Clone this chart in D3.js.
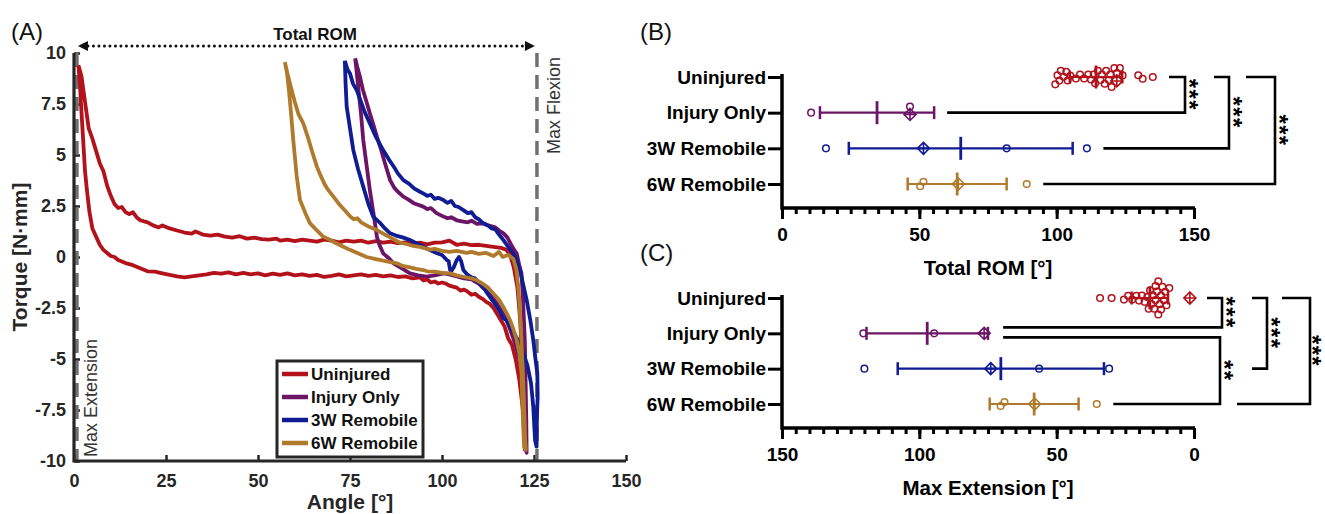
<!DOCTYPE html>
<html>
<head>
<meta charset="utf-8">
<title>Torque-angle loops and ROM</title>
<script src="https://cdn.jsdelivr.net/npm/d3@7"></script>
<style>
  body { margin: 0; background: #fff; }
  svg { font-family: "Liberation Sans", Arial, Helvetica, sans-serif; }
</style>
</head>
<body>
<svg id="fig" width="1325" height="514"></svg>
<script>
const groups = ["Uninjured", "Injury Only", "3W Remobile", "6W Remobile"];

// (A) representative torque-angle loops, [angle deg, torque N*mm]
const curveUninjured = [
  [1.2,9.4],[2,8.9],[3,7.6],[4,6.3],[5,5.8],[6,5.2],[7,4.6],[8,4.2],[9,3.5],[10,3.0],[11,2.6],[12,2.4],[13,2.45],
  [14,2.2],[15,2.1],[16,2.2],[17,1.95],[18,1.8],[20,1.7],[21.5,1.55],[23,1.45],[24,1.55],[26,1.4],[28,1.3],[30,1.2],
  [32,1.15],[33,1.25],[35,1.1],[37,1.05],[39,1.1],[41,1.0],[43,0.95],[45,1.02],[47,0.9],[49,0.95],[51,0.88],[53,0.85],
  [55,0.9],[56,0.8],[58,0.85],[60,0.78],[62,0.85],[64,0.8],[66,0.75],[68,0.85],[70,0.8],[72,0.72],[74,0.8],[76,0.75],
  [78,0.8],[80,0.7],[82,0.78],[84,0.7],[86,0.75],[88,0.68],[90,0.72],[92,0.65],[94,0.7],[96,0.62],[98,0.7],[100,0.72],
  [102,0.8],[104,0.6],[106,0.65],[108,0.58],[110,0.6],[112,0.55],[114,0.5],[116,0.45],[117.5,0.35],[118.5,0.1],
  [119.5,-0.5],[120.5,-1.5],[121.2,-3],[121.8,-5],[122.2,-7],[122.5,-9.45],
  [122,-7.5],[121,-6],[120,-5],[119,-4.3],[118,-4],[117,-3.4],[116,-3.1],[115,-2.8],[114,-2.5],[113,-2.3],[112,-2.2],
  [111,-2.05],[110,-1.95],[109,-1.8],[108,-1.85],[107,-1.7],[106,-1.6],[105,-1.65],[104,-1.5],[103,-1.45],[102,-1.4],
  [101,-1.3],[100,-1.25],[99,-1.3],[98,-1.2],[97,-1.25],[96,-1.1],[95,-1.15],[94,-1.0],[92,-1.05],[90,-0.95],[88,-0.98],
  [86,-0.9],[84,-0.95],[82,-0.88],[80,-0.92],[78,-0.85],[76,-0.9],[74,-0.95],[72,-0.85],[70,-0.92],[68,-0.98],[66,-0.88],
  [64,-0.93],[62,-0.85],[60,-0.9],[58,-0.8],[56,-0.88],[54,-0.82],[52,-0.9],[50,-0.8],[48,-0.85],[46,-0.78],[44,-0.85],
  [42,-0.75],[40,-0.82],[38,-0.78],[36,-0.85],[34,-0.9],[32,-0.95],[30,-1.0],[28,-0.95],[26,-0.88],[24,-0.8],[22,-0.72],
  [20,-0.7],[18,-0.55],[16,-0.4],[14,-0.3],[12,-0.15],[11,0.0],[10,0.05],[9,0.2],[8,0.35],[7,0.6],[6,1.0],[5,1.4],
  [4.2,2.2],[3.5,3.3],[3,4.2],[2.5,5.7],[2,7.2],[1.6,8.5],[1.2,9.4]
];
const curveInjury = [
  [76.4,9.74],[77,9.3],[77.7,8.84],[78.5,8.2],[79.5,7.6],[80.4,7.04],[81.5,6.4],[82.3,5.9],[83.2,5.4],[84.5,4.6],
  [85.9,3.77],[87,3.4],[88,3.2],[89.5,2.96],[91,2.8],[92.5,2.62],[94.9,2.47],[96,2.35],[97,2.4],[98.5,2.15],[100.4,1.98],
  [101.5,1.9],[102.5,1.95],[104,1.8],[105.8,1.73],[107,1.7],[108,1.78],[109.5,1.62],[111.2,1.65],[112.5,1.55],[113.5,1.5],
  [114.5,1.45],[115.5,1.3],[116.7,1.16],[117.8,0.95],[118.8,0.6],[119.6,0.35],[120.3,0.18],[121,-0.4],[121.6,-0.8],
  [122,-2],[122.5,-4.07],[122.7,-6],[122.9,-8],[123,-9.6],
  [122.6,-9.0],[122.3,-7.5],[121.8,-6.0],[121,-5.0],[120,-4.3],[119,-3.8],[118,-3.3],[117,-2.9],[116,-2.6],[115,-2.3],
  [114,-2.05],[113,-1.85],[112,-1.65],[111,-1.5],[110,-1.3],[109,-1.2],[108,-1.1],[106,-1.05],[104,-0.95],[102,-0.85],
  [100.4,-0.8],[98,-0.9],[95.8,-0.96],[93.5,-0.9],[91.3,-0.8],[89,-0.55],[86.8,-0.31],[85.5,-0.05],[84,0.18],[83,0.6],
  [82.3,1.0],[81.5,2.0],[80.4,3.28],[79.5,4.5],[78.6,5.74],[78,7],[77.3,8.19],[76.8,9.1],[76.4,9.74]
];
const curve3W = [
  [73.6,9.62],[74.3,9.2],[75,9.0],[75.8,8.5],[76.8,8.19],[78,7.6],[79,7.1],[80.4,6.55],[82,5.9],[84,5.24],[85.5,4.8],
  [87,4.4],[88,4.1],[89.5,3.77],[91,3.6],[92.5,3.35],[94,3.2],[94.9,3.12],[96,3.0],[97,3.05],[98,2.85],[99,2.9],
  [100.4,2.79],[101.5,2.65],[102.5,2.75],[103.5,2.5],[104.5,2.45],[105.8,2.3],[107,2.15],[108,2.2],[109,1.95],[110,1.85],
  [111.2,1.65],[112.5,1.55],[113.5,1.4],[114.5,1.35],[115.5,1.1],[116.7,0.83],[118,0.5],[119.2,0.2],[120.3,-0.15],
  [121.5,-0.9],[123,-2.1],[124,-3.1],[124.8,-4.07],[125.4,-5],[125.9,-5.7],[126,-6.8],[125.8,-7.8],[125.7,-9.3],
  [125.3,-9.0],[124.8,-7.34],[124.2,-6.2],[123.2,-5.3],[122.1,-4.72],[121,-4.2],[119.8,-3.8],[118.5,-3.42],[117.5,-3.1],
  [116.6,-3.0],[115.8,-2.7],[114.9,-2.43],[114,-2.2],[113,-1.95],[112.2,-1.75],[111.2,-1.45],[110,-1.25],[109,-1.05],
  [108,-1.0],[106.8,-0.85],[105.8,-0.64],[105.2,-0.2],[104.6,0.0],[104,-0.15],[103.2,-0.5],[102.5,-0.7],[102.2,-0.64],
  [101.8,-0.2],[101.3,-0.15],[100,0.1],[98.5,0.2],[96.7,0.34],[95,0.5],[93,0.68],[91.3,0.83],[89.5,0.95],[87.5,1.05],
  [85.9,1.16],[84.5,1.4],[83,1.7],[81.3,1.98],[80,2.6],[78.6,3.45],[77.2,4.3],[75.9,5.24],[75,6.3],[74.1,7.37],
  [73.8,8.5],[73.6,9.62]
];
const curve6W = [
  [57.3,9.55],[58,9.0],[58.7,8.5],[60,7.6],[61,7.0],[62.3,6.55],[63.5,5.9],[65,5.0],[66,4.43],[67,4.0],[68,3.6],
  [69,3.3],[70.5,2.96],[72,2.6],[73.5,2.3],[75,2.0],[76,1.85],[77,1.9],[78,1.7],[80,1.5],[82.3,1.32],[84,1.15],
  [86,0.95],[88.6,0.7],[90,0.65],[92,0.55],[94,0.5],[96.7,0.36],[98,0.4],[100,0.3],[102,0.25],[104,0.3],[106.7,0.2],
  [108,0.25],[110,0.15],[112,0.2],[114,0.05],[115.5,0.25],[116.5,0.0],[118,0.1],[119.4,-0.1],[120.2,-0.6],[120.8,-1.6],
  [121.3,-3],[121.6,-4.1],[122,-5.8],[122.3,-7.3],[122.6,-9.0],[122.8,-9.45],
  [122.3,-9.3],[121.9,-7.5],[121.6,-5.7],[121,-4.7],[120.3,-4.07],[119.5,-3.6],[118.5,-3.1],[117.6,-2.76],[116.5,-2.4],
  [115.5,-2.1],[113.9,-1.78],[112.5,-1.5],[111,-1.3],[109.4,-1.13],[108,-1.05],[106,-0.98],[104,-0.9],[102.2,-0.8],
  [100,-0.78],[98,-0.72],[96,-0.7],[94.9,-0.64],[93,-0.58],[91,-0.5],[89,-0.42],[87.7,-0.31],[86,-0.25],[84,-0.18],
  [82,-0.1],[79.5,0.0],[77,0.2],[75,0.35],[73.2,0.5],[71,0.7],[69.5,0.85],[67.7,1.0],[66,1.3],[64.1,1.66],[63,2.1],
  [61.4,2.8],[60.5,4.0],[59.6,5.7],[59,7.0],[58.5,8.0],[57.9,9.0],[57.3,9.55]
];
const angleTicks = [0, 25, 50, 75, 100, 125, 150];
const torqueTicks = [10, 7.5, 5, 2.5, 0, -2.5, -5, -7.5, -10];
const maxExtAngle = 0.8, maxFlexAngle = 125.8;

// (B) total ROM per sample; rep = the sample whose loop is drawn in (A)
const romUninjured = [99.5, 100.3, 101, 101.5, 102.5, 103.5, 104, 105, 107, 108.5, 110, 111.5, 112.5, 113.5, 114,
  115, 116, 116.5, 117.5, 118, 119, 119.5, 120, 121, 122, 123, 124, 129.7, 131.3, 135];
const romInjury = [10.6, 46.6];
const rom3W = [16, 81.8, 111];
const rom6W = [50.3, 51.5, 89.1];
const romRep = [121.9, 46.6, 51.5, 64.2];

// (C) max extension per sample
const extUninjured = [34.2, 30, 25.5, 24, 22.5, 21, 20, 19, 18, 17, 16.5, 16, 15.5, 15, 14.5, 14, 14, 13.5, 13, 13,
  12.5, 12, 12, 11.5, 11, 10.5, 10, 9];
const extInjury = [120.4, 94.6];
const ext3W = [120, 56.4, 30.9];
const ext6W = [70.4, 69, 35.4];
const extRep = [1.5, 76.4, 74, 58];

const romTicks = [0, 50, 100, 150];
const extTicks = [150, 100, 50, 0];

// significance: [group a, group b, stars]
const sigRom = [[0, 1, "***"], [0, 2, "***"], [0, 3, "***"]];
const sigExt = [[0, 1, "***"], [1, 3, "**"], [0, 2, "***"], [0, 3, "***"]];

const groupColors = ["#b3121b", "#6c1466", "#0f1c94", "#b07a2c"];
const axisGrey = "#262626";

var svg = d3.select("#fig");

// ---------- panel A ----------
var xA = d3.scaleLinear().domain([0, 150]).range([74, 626]),
    yA = d3.scaleLinear().domain([-10, 10]).range([461, 53]);

var gA = svg.append("g");

gA.append("text").attr("x", 11).attr("y", 40).attr("font-size", 24).attr("fill", "#111").text("(A)");

gA.append("g")
    .attr("transform", "translate(0," + yA(-10) + ")")
    .call(d3.axisBottom(xA).tickValues(angleTicks).tickSize(-6).tickPadding(13).tickFormat(function(d) { return d; }))
    .call(function(g) { g.select(".domain").remove(); });

gA.append("g")
    .attr("transform", "translate(" + xA(0) + ",0)")
    .call(d3.axisLeft(yA).tickValues(torqueTicks).tickSize(-6).tickPadding(8).tickFormat(function(d) { return String(d); }))
    .call(function(g) { g.select(".domain").remove(); });

gA.selectAll(".tick line").attr("stroke", axisGrey).attr("stroke-width", 2.5);
gA.selectAll(".tick text").attr("fill", axisGrey).attr("font-size", 18).attr("font-weight", "bold")
    .attr("font-family", null);

// dashed limits
[maxExtAngle, maxFlexAngle].forEach(function(a) {
  gA.append("line")
      .attr("x1", xA(a)).attr("x2", xA(a))
      .attr("y1", yA(10)).attr("y2", yA(-10))
      .attr("stroke", "#707070").attr("stroke-width", 3.5)
      .attr("stroke-dasharray", "14,8");
});

gA.append("path")
    .attr("d", "M" + xA(0) + "," + yA(10) + "V" + yA(-10) + "H" + xA(150))
    .attr("fill", "none").attr("stroke", axisGrey).attr("stroke-width", 3.2);

var line = d3.line().x(function(d) { return xA(d[0]); }).y(function(d) { return yA(d[1]); });

gA.selectAll("path.loop")
    .data([curveUninjured, curveInjury, curve3W, curve6W])
    .join("path")
    .attr("class", "loop")
    .attr("d", line)
    .attr("fill", "none")
    .attr("stroke", function(d, i) { return groupColors[i]; })
    .attr("stroke-width", 3.8)
    .attr("stroke-linejoin", "round");

// Total ROM arrow
var ax0 = xA(maxExtAngle) + 1, ax1 = xA(maxFlexAngle) - 2, ay = 46;
gA.append("line")
    .attr("x1", ax0 + 10).attr("x2", ax1 - 10).attr("y1", ay).attr("y2", ay)
    .attr("stroke", "#111").attr("stroke-width", 3)
    .attr("stroke-linecap", "round").attr("stroke-dasharray", "0,5.5");
gA.append("path")
    .attr("d", "M" + ax0 + "," + ay + "l10,-5v10z M" + ax1 + "," + ay + "l-10,-5v10z")
    .attr("fill", "#111");
gA.append("text").attr("x", 315).attr("y", 40).attr("text-anchor", "middle")
    .attr("font-size", 17).attr("font-weight", "bold").attr("fill", "#111").text("Total ROM");

gA.append("text").attr("transform", "translate(560,57) rotate(-90)").attr("text-anchor", "end")
    .attr("font-size", 18).attr("fill", "#333").text("Max Flexion");
gA.append("text").attr("transform", "translate(97,457) rotate(-90)").attr("text-anchor", "start")
    .attr("font-size", 18).attr("fill", "#333").text("Max Extension");

gA.append("text").attr("transform", "translate(27,257) rotate(-90)").attr("text-anchor", "middle")
    .attr("font-size", 21).attr("font-weight", "bold").attr("fill", axisGrey).text("Torque [N\u00b7mm]");
gA.append("text").attr("x", 350).attr("y", 509).attr("text-anchor", "middle")
    .attr("font-size", 21).attr("font-weight", "bold").attr("fill", axisGrey).text("Angle [\u00b0]");

// legend
var leg = gA.append("g");
leg.append("rect").attr("x", 277).attr("y", 361).attr("width", 146).attr("height", 96)
    .attr("fill", "#fff").attr("stroke", axisGrey).attr("stroke-width", 3);
groups.forEach(function(name, i) {
  var y = 374 + i * 23;
  leg.append("line").attr("x1", 282).attr("x2", 308).attr("y1", y).attr("y2", y)
      .attr("stroke", groupColors[i]).attr("stroke-width", 4.5);
  leg.append("text").attr("x", 311).attr("y", y).attr("dy", "0.36em")
      .attr("font-size", 17).attr("font-weight", "bold").attr("fill", "#111").text(name);
});

// ---------- panels B and C ----------
function diamond(x, y, s) {
  return "M" + x + "," + (y - s) + "L" + (x + s) + "," + y + "L" + x + "," + (y + s) + "L" + (x - s) + "," + y + "Z" +
         "M" + (x - s) + "," + y + "H" + (x + s) + "M" + x + "," + (y - s) + "V" + (y + s);
}

function swarm(vals, rep, xs, yc) {
  var nodes = vals.map(function(v) { return {v: v, rep: false, r: 2.8}; });
  nodes.push({v: rep, rep: true, r: 5.2});
  nodes.forEach(function(n, i) {
    n.fx = n.x = xs(n.v);
    n.y = n.rep ? yc + 2 : yc + (i % 2 ? -1 : 1) * (1 + i % 4);
  });
  var sim = d3.forceSimulation(nodes)
      .force("y", d3.forceY(yc).strength(0.2))
      .force("collide", d3.forceCollide(function(d) { return d.r; }).iterations(4))
      .stop();
  for (var k = 0; k < 300; k++) sim.tick();
  return nodes;
}

function summaryPanel(top, bottom, xs, ys, ticks, sets, reps, title, label) {
  var g = svg.append("g");

  g.append("text").attr("x", 640).attr("y", top - 11).attr("font-size", 24).attr("fill", "#111").text(label);

  // minor then major ticks
  g.append("g").attr("transform", "translate(0," + bottom + ")")
      .call(d3.axisBottom(xs).tickValues(d3.range(0, 151, 5)).tickSize(6).tickFormat(""))
      .call(function(a) { a.select(".domain").remove(); });
  g.append("g").attr("transform", "translate(0," + bottom + ")")
      .call(d3.axisBottom(xs).tickValues(ticks).tickSize(11).tickPadding(8.5))
      .call(function(a) { a.select(".domain").remove(); });
  g.append("g").attr("transform", "translate(782,0)")
      .call(d3.axisLeft(ys).tickSize(14).tickPadding(2))
      .call(function(a) { a.select(".domain").remove(); });
  g.selectAll(".tick line").attr("stroke", "#000").attr("stroke-width", 3);
  g.selectAll(".tick text").attr("fill", "#000").attr("font-size", 19).attr("font-weight", "bold")
      .attr("font-family", null);

  g.append("path")
      .attr("d", "M782," + (top + 23) + "V" + bottom + "H1195")
      .attr("fill", "none").attr("stroke", "#000").attr("stroke-width", 3.5);

  g.append("text").attr("x", 988).attr("y", bottom + 67).attr("text-anchor", "middle")
      .attr("font-size", 20.5).attr("font-weight", "bold").attr("fill", "#000").text(title);

  var extent = [];
  sets.forEach(function(vals, i) {
    var yc = ys(groups[i]), col = groupColors[i];
    var all = vals.concat([reps[i]]);
    var m = d3.mean(all), sd = d3.deviation(all);
    var nodes = swarm(vals, reps[i], xs, yc);
    var gg = g.append("g").attr("stroke", col).attr("fill", "none");

    gg.selectAll("circle").data(nodes.filter(function(n) { return !n.rep; })).join("circle")
        .attr("cx", function(d) { return d.x; }).attr("cy", function(d) { return d.y; })
        .attr("r", 3.3).attr("stroke-width", 1.5);
    nodes.filter(function(n) { return n.rep; }).forEach(function(n) {
      gg.append("path").attr("d", diamond(n.x, n.y, 6)).attr("stroke-width", 1.6);
    });

    gg.append("line").attr("x1", xs(m - sd)).attr("x2", xs(m + sd)).attr("y1", yc).attr("y2", yc)
        .attr("stroke-width", 2.2);
    [m - sd, m + sd].forEach(function(v) {
      gg.append("line").attr("x1", xs(v)).attr("x2", xs(v)).attr("y1", yc - 6.5).attr("y2", yc + 6.5)
          .attr("stroke-width", 2.5);
    });
    gg.append("line").attr("x1", xs(m)).attr("x2", xs(m)).attr("y1", yc - 11.5).attr("y2", yc + 11.5)
        .attr("stroke-width", 2.8);

    var right = d3.max(nodes, function(n) { return n.x + (n.rep ? 6 : 3.5); });
    extent[i] = Math.max(right, xs(m - sd), xs(m + sd));
  });
  return {g: g, extent: extent};
}

// stacked significance stars, one text turned to run downwards
function stars(g, x, yMid, str) {
  g.append("text")
      .attr("transform", "translate(" + (x - 14) + "," + yMid + ") rotate(90)")
      .attr("text-anchor", "middle").attr("letter-spacing", 1.4)
      .attr("font-size", 24).attr("font-weight", "bold").attr("fill", "#000")
      .text(str);
}

function brackets(p, ys, sig, layout) {
  sig.forEach(function(s, k) {
    var L = layout[k];
    var ya = ys(groups[s[0]]) + (L.offA || 0), yb = ys(groups[s[1]]) + (L.offB || 0);
    var topStart = L.top != null ? L.top : p.extent[s[0]] + 13;
    var botStart = L.bot != null ? L.bot : p.extent[s[1]] + 13;
    p.g.append("path")
        .attr("d", "M" + topStart + "," + ya + "H" + L.v + "V" + yb + "H" + botStart)
        .attr("fill", "none").attr("stroke", "#000").attr("stroke-width", 2.6);
    stars(p.g, L.v + (L.gap || 10), (ya + yb) / 2, s[2]);
  });
}

var xB = d3.scaleLinear().domain([0, 150]).range([782, 1194]),
    yB = d3.scalePoint().domain(groups).range([77, 184]);
var pB = summaryPanel(51, 208, xB, yB, romTicks, [romUninjured, romInjury, rom3W, rom6W], romRep, "Total ROM [\u00b0]", "(B)");
brackets(pB, yB, sigRom, [{v: 1185, top: 1169}, {v: 1229, top: 1214}, {v: 1275, top: 1246}]);

var xC = d3.scaleLinear().domain([150, 0]).range([782, 1194]),
    yC = d3.scalePoint().domain(groups).range([298, 404]);
var pC = summaryPanel(272, 428, xC, yC, extTicks, [extUninjured, extInjury, ext3W, ext6W], extRep, "Max Extension [\u00b0]", "(C)");
brackets(pC, yC, sigExt, [
  {v: 1222, top: 1207, offB: -6},
  {v: 1220, offA: 4},
  {v: 1267, top: 1252, bot: 1252},
  {v: 1310, top: 1282, bot: 1237, gap: 8}
]);
</script>
</body>
</html>
